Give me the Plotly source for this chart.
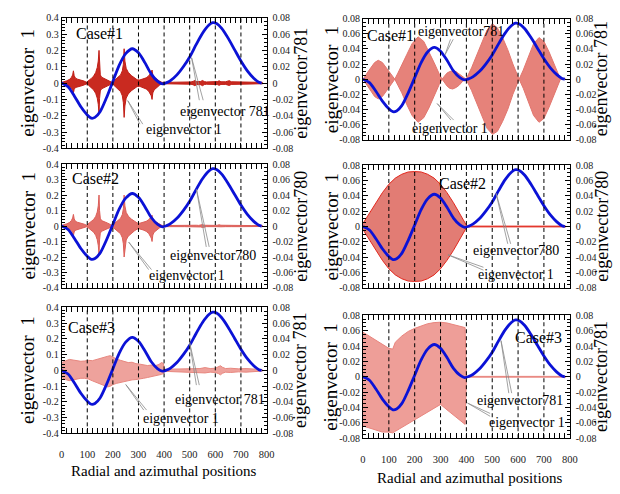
import plotly.graph_objects as go

# ---------------- data ----------------
POS_TICKS = [0, 100, 200, 300, 400, 500, 600, 700, 800]
POS_LABELS = ["0", "100", "200", "300", "400", "500", "600", "700", "800"]
DASHED_AT = [100, 200, 300, 400, 500, 600, 700]

WIDE_TICKS = [-0.4, -0.3, -0.2, -0.1, 0, 0.1, 0.2, 0.3, 0.4]
WIDE_LABELS = ["-0.4", "-0.3", "-0.2", "-0.1", "0", "0.1", "0.2", "0.3", "0.4"]
NARROW_TICKS = [-0.08, -0.06, -0.04, -0.02, 0, 0.02, 0.04, 0.06, 0.08]
NARROW_LABELS = ["-0.08", "-0.06", "-0.04", "-0.02", "0", "0.02", "0.04", "0.06", "0.08"]

# eigenvector 781 / 780 (blue, right axis)
BLUE_X = [0, 25, 50, 75, 100, 116, 130, 150, 175, 200, 225, 250, 276, 300, 325, 350,
          375, 393, 410, 425, 450, 475, 500, 525, 550, 575, 590, 605, 625, 650, 675,
          700, 725, 750, 770, 781]
EV781 = [0, -0.0045, -0.016, -0.029, -0.039, -0.043, -0.042, -0.035, -0.018, 0.002,
         0.022, 0.036, 0.042, 0.037, 0.025, 0.011, 0.002, -0.001, 0.0005, 0.003, 0.010,
         0.020, 0.032, 0.047, 0.061, 0.071, 0.074, 0.073, 0.067, 0.055, 0.041, 0.027,
         0.015, 0.006, 0.001, 0]

# eigenvector 1 envelopes, left column (Case#1, Case#2 share sampling positions)
BURST_X = [0, 10, 20, 30, 38, 43, 46, 49, 54, 62, 75, 88, 97, 105, 115, 125, 133, 139,
           143, 146, 148, 151, 156, 165, 178, 190, 198, 203, 210, 220, 230, 237, 241,
           244, 247, 252, 260, 272, 285, 295, 305, 318, 330, 340, 346, 350, 353, 356,
           361, 370, 382, 392, 400, 420, 480, 505, 513, 520, 527, 535, 543, 550, 557,
           565, 600, 608, 615, 622, 640, 648, 655, 662, 700, 740, 785]
L1_UP = [0.004, 0.008, 0.014, 0.022, 0.034, 0.05, 0.075, 0.045, 0.03, 0.024,
         0.02, 0.012, 0.005, 0.014, 0.027, 0.043, 0.065, 0.095, 0.135, 0.2,
         0.1, 0.05, 0.036, 0.03, 0.02, 0.01, 0.003, 0.012, 0.022, 0.033,
         0.05, 0.075, 0.115, 0.21, 0.135, 0.09, 0.066, 0.046, 0.03, 0.02,
         0.019, 0.024, 0.032, 0.044, 0.055, 0.066, 0.08, 0.05, 0.036, 0.025,
         0.012, 0.004, 0.004, 0.006, 0.006, 0.007, 0.01, 0.016, 0.009, 0.008,
         0.01, 0.016, 0.009, 0.007, 0.007, 0.009, 0.014, 0.008, 0.008, 0.01,
         0.015, 0.008, 0.006, 0.005, 0.004]
L1_LO = [-0.004, -0.008, -0.013, -0.02, -0.03, -0.042, -0.06, -0.038, -0.027, -0.022,
         -0.018, -0.011, -0.005, -0.013, -0.026, -0.042, -0.063, -0.092, -0.13, -0.19,
         -0.095, -0.048, -0.035, -0.029, -0.019, -0.01, -0.003, -0.012, -0.022, -0.034,
         -0.052, -0.078, -0.12, -0.21, -0.14, -0.092, -0.067, -0.047, -0.031, -0.021,
         -0.02, -0.026, -0.036, -0.05, -0.064, -0.078, -0.1, -0.06, -0.042, -0.028,
         -0.013, -0.004, -0.004, -0.006, -0.006, -0.007, -0.01, -0.016, -0.009, -0.008,
         -0.01, -0.016, -0.009, -0.007, -0.007, -0.009, -0.014, -0.008, -0.008, -0.01,
         -0.015, -0.008, -0.006, -0.005, -0.004]
L2_UP = [0.004, 0.008, 0.014, 0.022, 0.035, 0.052, 0.075, 0.046, 0.03, 0.024,
         0.02, 0.012, 0.005, 0.014, 0.026, 0.042, 0.062, 0.09, 0.13, 0.2,
         0.1, 0.05, 0.035, 0.03, 0.02, 0.01, 0.003, 0.012, 0.022, 0.033,
         0.05, 0.074, 0.112, 0.2, 0.13, 0.088, 0.064, 0.045, 0.03, 0.02,
         0.018, 0.023, 0.03, 0.041, 0.05, 0.06, 0.07, 0.045, 0.033, 0.023,
         0.011, 0.004, 0.003, 0.004, 0.004, 0.004, 0.005, 0.006, 0.005, 0.004,
         0.006, 0.009, 0.005, 0.004, 0.004, 0.005, 0.008, 0.005, 0.004, 0.005,
         0.007, 0.004, 0.004, 0.003, 0.003]
L2_LO = [-0.004, -0.008, -0.013, -0.02, -0.03, -0.042, -0.06, -0.038, -0.027, -0.022,
         -0.018, -0.011, -0.005, -0.013, -0.025, -0.04, -0.06, -0.088, -0.125, -0.18,
         -0.09, -0.046, -0.034, -0.028, -0.019, -0.01, -0.003, -0.012, -0.022, -0.034,
         -0.05, -0.076, -0.115, -0.2, -0.135, -0.09, -0.066, -0.046, -0.03, -0.02,
         -0.019, -0.025, -0.034, -0.048, -0.062, -0.078, -0.1, -0.058, -0.04, -0.027,
         -0.012, -0.004, -0.003, -0.004, -0.004, -0.004, -0.005, -0.006, -0.005, -0.004,
         -0.006, -0.009, -0.005, -0.004, -0.004, -0.005, -0.008, -0.005, -0.004, -0.005,
         -0.007, -0.004, -0.004, -0.003, -0.003]
L3_X = [0, 15, 30, 45, 60, 75, 90, 105, 120, 135, 150, 165, 180, 190, 200, 215, 230,
        245, 260, 275, 290, 305, 320, 335, 350, 365, 380, 390, 397, 402, 420, 480, 540,
        560, 580, 600, 612, 620, 628, 640, 660, 690, 720, 750, 785]
L3_UP = [0.05, 0.062, 0.07, 0.066, 0.06, 0.058, 0.06, 0.064, 0.062, 0.07, 0.076, 0.082,
         0.09, 0.094, 0.085, 0.072, 0.064, 0.058, 0.05, 0.052, 0.043, 0.04, 0.035, 0.031,
         0.034, 0.03, 0.038, 0.05, 0.045, 0.006, 0.008, 0.01, 0.012, 0.018, 0.012, 0.014,
         0.022, 0.03, 0.02, 0.012, 0.014, 0.01, 0.012, 0.008, 0.005]
L3_LO = [-0.045, -0.058, -0.065, -0.06, -0.056, -0.05, -0.05, -0.055, -0.066, -0.075,
         -0.085, -0.095, -0.105, -0.1, -0.09, -0.082, -0.076, -0.07, -0.066, -0.06, -0.058,
         -0.052, -0.05, -0.045, -0.04, -0.036, -0.03, -0.025, -0.02, -0.005, -0.007,
         -0.009, -0.011, -0.016, -0.011, -0.013, -0.02, -0.028, -0.018, -0.011, -0.013,
         -0.009, -0.011, -0.007, -0.004]

# eigenvector 1 envelopes, right column
R1_X = [0, 15, 30, 45, 59, 75, 90, 105, 118, 123, 135, 150, 170, 190, 213, 235, 255,
        275, 295, 306, 315, 325, 335, 347, 360, 372, 385, 399, 420, 440, 460, 480, 501,
        520, 540, 560, 580, 595, 604, 620, 640, 660, 681, 700, 720, 740, 755, 764, 785]
R1_UP = [0.0, 0.008, 0.015, 0.022, 0.025, 0.022, 0.015, 0.008, 0.002, 0.0,
         0.008, 0.018, 0.033, 0.047, 0.056, 0.05, 0.037, 0.022, 0.007, 0.0,
         0.004, 0.008, 0.010, 0.011, 0.010, 0.007, 0.003, 0.0,
         0.015, 0.032, 0.05, 0.065, 0.073, 0.068, 0.055, 0.039, 0.02, 0.007, 0.0,
         0.012, 0.03, 0.047, 0.055, 0.05, 0.036, 0.02, 0.008, 0.0, 0.0]
R1_LO = [0.0, -0.008, -0.016, -0.023, -0.026, -0.023, -0.016, -0.008, -0.002, 0.0,
         -0.008, -0.018, -0.034, -0.048, -0.057, -0.051, -0.038, -0.022, -0.007, 0.0,
         -0.005, -0.009, -0.012, -0.013, -0.011, -0.008, -0.003, 0.0,
         -0.015, -0.032, -0.05, -0.065, -0.073, -0.069, -0.056, -0.04, -0.02, -0.007, 0.0,
         -0.012, -0.03, -0.048, -0.057, -0.052, -0.037, -0.02, -0.008, 0.0, 0.0]
R2_X = [0, 25, 50, 75, 100, 125, 150, 175, 200, 225, 250, 275, 300, 325, 350, 375,
        398, 402, 785]
R2_UP = [0.004, 0.017, 0.031, 0.044, 0.055, 0.063, 0.068, 0.071, 0.0715, 0.071, 0.068,
         0.063, 0.055, 0.044, 0.031, 0.017, 0.003, 0.0005, 0.0005]
R2_LO = [-0.004, -0.017, -0.031, -0.044, -0.055, -0.063, -0.068, -0.071, -0.0715, -0.071,
         -0.068, -0.063, -0.055, -0.044, -0.031, -0.017, -0.003, -0.0005, -0.0005]
R3_X = [0, 25, 50, 75, 100, 115, 125, 150, 175, 200, 225, 250, 275, 300, 325, 350, 375,
        395, 400, 785]
R3_UP = [0.058, 0.053, 0.047, 0.042, 0.037, 0.036, 0.045, 0.053, 0.059, 0.063, 0.066,
         0.069, 0.0705, 0.071, 0.070, 0.068, 0.066, 0.064, 0.0005, 0.0005]
R3_LO = [-0.064, -0.067, -0.07, -0.072, -0.072, -0.073, -0.071, -0.066, -0.061, -0.056,
         -0.051, -0.046, -0.041, -0.036, -0.043, -0.05, -0.056, -0.062, -0.0005, -0.0005]

CASES = ["Case#1", "Case#2", "Case#3"]

# ---------------- layout helpers ----------------
W, H = 620, 494
FONT = "Liberation Serif"


def px(x):
    return x / W


def py(y):
    return 1 - y / H


COL_X = [(59.7, 268.3), (366.5, 577.0)]
ROW_Y = [[(12, 146), (162, 289), (309, 438)],
         [(13, 137), (163, 289), (317, 443)]]

PANELS = [
    dict(col=0, row=0, x=BURST_X, up=L1_UP, lo=L1_LO, fill="#c92a20", edge="#c01e16",
         wide=True, rtitle="eigenvector781", case=(98, 28)),
    dict(col=0, row=1, x=BURST_X, up=L2_UP, lo=L2_LO, fill="#e2706a", edge="#dc5e58",
         wide=True, rtitle="eigenvector780", case=(94, 177)),
    dict(col=0, row=2, x=L3_X, up=L3_UP, lo=L3_LO, fill="#eea29c", edge="#e7877f",
         wide=True, rtitle="eigenvector 781", case=(90, 330)),
    dict(col=1, row=0, x=R1_X, up=R1_UP, lo=R1_LO, fill="#e6827a", edge="#e2766e",
         wide=False, rtitle="eigenvector 781", case=(395, 30)),
    dict(col=1, row=1, x=R2_X, up=R2_UP, lo=R2_LO, fill="#e27c74", edge="#e2281e",
         wide=False, rtitle="eigenvector780", case=(468, 182)),
    dict(col=1, row=2, x=R3_X, up=R3_UP, lo=R3_LO, fill="#ee9e98", edge="#e8857e",
         wide=False, rtitle="eigenvector781", case=(545, 340)),
]

# annotation text centres, arrow tails and heads (pixels)
POINTERS = [
    ("eigenvector 781", (226, 108), [(200, 97), (204, 97)], (192, 53)),
    ("eigenvector 1", (184, 127), [(143, 122), (140, 122)], (127, 97)),
    ("eigenvector780", (214, 256), [(210, 247), (207, 247)], (197, 188)),
    ("eigenvector 1", (187, 276), [(152, 271), (149, 271)], (128, 242)),
    ("eigenvector 781", (221, 403), [(200, 389), (197, 389)], (190, 345)),
    ("eigenvector 1", (181, 423), [(147, 415), (144, 415)], (125, 388)),
    ("eigenvector781", (466, 26), [(456, 33), (459, 33)], (450, 50)),
    ("eigenvector 1", (455, 126), [(457, 118), (460, 118)], (442, 100)),
    ("eigenvector780", (522, 251), [(517, 244), (514, 244)], (502, 192)),
    ("eigenvector 1", (522, 275), [(490, 271), (490, 268)], (453, 255)),
    ("eigenvector781", (526, 404), [(518, 397), (515, 397)], (507, 343)),
    ("eigenvector 1", (533, 427), [(497, 421), (497, 418)], (473, 407)),
]


def label(text, x, y, size, angle=0):
    return dict(text=text, x=px(x), y=py(y), xref="paper", yref="paper",
                xanchor="center", yanchor="middle", showarrow=False, textangle=angle,
                font=dict(family=FONT, size=size, color="black"))


fig = go.Figure()
layout = dict(
    width=W, height=H, margin=dict(l=0, r=0, t=0, b=0),
    paper_bgcolor="white", plot_bgcolor="white", showlegend=False,
    font=dict(family=FONT, color="black"),
)
shapes = []
annotations = []

for i, p in enumerate(PANELS):
    xa = "x" if i == 0 else f"x{i + 1}"
    yl = "y" if i == 0 else f"y{2 * i + 1}"
    yr = f"y{2 * i + 2}"
    xkey = "xaxis" if i == 0 else f"xaxis{i + 1}"
    ylkey = "yaxis" if i == 0 else f"yaxis{2 * i + 1}"
    yrkey = f"yaxis{2 * i + 2}"

    fig.add_trace(go.Scatter(x=p["x"], y=p["lo"], xaxis=xa, yaxis=yl, mode="lines",
                             line=dict(color=p["edge"], width=1), hoverinfo="skip"))
    fig.add_trace(go.Scatter(x=p["x"], y=p["up"], xaxis=xa, yaxis=yl, mode="lines",
                             fill="tonexty", fillcolor=p["fill"],
                             line=dict(color=p["edge"], width=1), hoverinfo="skip"))
    fig.add_trace(go.Scatter(x=BLUE_X, y=EV781, xaxis=xa, yaxis=yr, mode="lines",
                             line=dict(color="#0b12d6", width=2.8, shape="spline",
                                       smoothing=0.8), hoverinfo="skip"))

    x0, x1 = COL_X[p["col"]]
    top, bot = ROW_Y[p["col"]][p["row"]]
    bottom_row = p["row"] == 2
    tickfont = dict(family=FONT, size=10, color="#222")

    layout[xkey] = dict(
        domain=[px(x0), px(x1)], anchor=yl, range=[0, 800],
        tickmode="array", tickvals=POS_TICKS, ticktext=POS_LABELS,
        showticklabels=bottom_row, ticks="inside", ticklen=5, tickcolor="black",
        minor=dict(tickmode="linear", tick0=0, dtick=20, ticks="inside", ticklen=3,
                   tickcolor="black"),
        showline=True, linecolor="black", linewidth=1, mirror="allticks",
        showgrid=False, zeroline=False, tickfont=dict(family=FONT, size=10.5, color="#222"),
        ticklabelstandoff=11,
    )
    if p["wide"]:
        lt, ll, lmin = WIDE_TICKS, WIDE_LABELS, 0.02
    else:
        lt, ll, lmin = NARROW_TICKS, NARROW_LABELS, 0.005
    layout[ylkey] = dict(
        domain=[py(bot), py(top)], anchor=xa, range=[lt[0], lt[-1]],
        tickmode="array", tickvals=lt, ticktext=ll,
        ticks="inside", ticklen=5, tickcolor="black",
        minor=dict(tickmode="linear", tick0=0, dtick=lmin, ticks="inside", ticklen=3,
                   tickcolor="black"),
        showline=True, linecolor="black", linewidth=1, mirror=True,
        showgrid=False, zeroline=False, tickfont=tickfont,
    )
    layout[yrkey] = dict(
        overlaying=yl, side="right", anchor=xa, range=[-0.08, 0.08],
        tickmode="array", tickvals=NARROW_TICKS, ticktext=NARROW_LABELS,
        ticks="inside", ticklen=5, tickcolor="black",
        minor=dict(tickmode="linear", tick0=0, dtick=0.005, ticks="inside", ticklen=3,
                   tickcolor="black"),
        showline=True, linecolor="black", linewidth=1,
        showgrid=False, zeroline=False, tickfont=tickfont, ticklabelstandoff=3,
    )

    for v in DASHED_AT:
        shapes.append(dict(type="line", xref=xa, yref=f"{yl} domain", x0=v, x1=v,
                           y0=0, y1=1, layer="above",
                           line=dict(color="black", width=1, dash="4px,3px")))

    ymid = (top + bot) / 2
    lx = 25 if p["col"] == 0 else 334
    rx = 303 if p["col"] == 0 else 609
    annotations.append(label("eigenvector  1", lx, ymid, 19, -90))
    annotations.append(label(p["rtitle"], rx, ymid, 18, -90))
    cx, cy = p["case"]
    annotations.append(label(CASES[p["row"]], cx, cy, 16))
    if bottom_row:
        tx, ty = (164, 477) if p["col"] == 0 else (475, 484)
        annotations.append(label("Radial and azimuthal positions", tx, ty, 15))

for text, (tx, ty), tails, (hx, hy) in POINTERS:
    annotations.append(label(text, tx, ty, 14))
    for (ax, ay) in tails:
        annotations.append(dict(text="", x=px(hx), y=py(hy), xref="paper", yref="paper",
                                showarrow=True, arrowhead=0, arrowwidth=0.8,
                                arrowcolor="#8a8a8a", ax=ax - hx, ay=ay - hy,
                                standoff=0, startstandoff=0))

layout["shapes"] = shapes
layout["annotations"] = annotations
fig.update_layout(**layout)
fig.write_html("out.html", config={"displayModeBar": False},
               post_script="document.body.style.margin='0';"
                           "document.body.style.overflow='hidden';")
